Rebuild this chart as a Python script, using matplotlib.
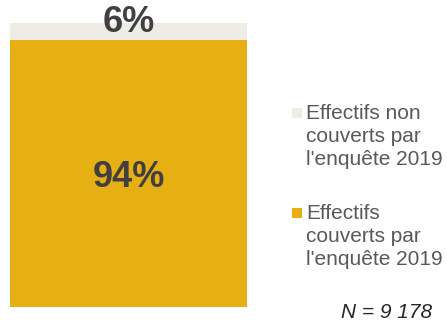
import matplotlib.pyplot as plt
from matplotlib.patches import Rectangle

plt.rcParams["font.family"] = ["Liberation Sans", "DejaVu Sans"]

# données (%)
segments = ["Effectifs couverts par\nl'enquête 2019", "Effectifs non\ncouverts par\nl'enquête 2019"]
valeurs = [94, 6]
couleurs = ["#E6AF13", "#EFEBE5"]
legende = ["Effectifs non\ncouverts par\nl'enquête 2019", "Effectifs\ncouverts par\nl'enquête 2019"]
couleurs_legende = ["#EFEBE5", "#E6AF13"]
effectif = "9 178"

W, H = 447, 326
fig = plt.figure(figsize=(W / 100, H / 100), dpi=100)
ax = fig.add_axes([10 / W, 19 / H, 237 / W, 284 / H])

bas = 0
for nom, v, c in zip(segments, valeurs, couleurs):
    ax.bar(0, v, width=1, bottom=bas, color=c, linewidth=0)
    bas += v

# étiquettes : 94% un peu sous le centre, 6% à cheval sur le haut de la barre
ax.text(0, valeurs[0] / 2 - 1.5, f"{valeurs[0]}%", ha="center", va="center",
        fontsize=26, fontweight="bold", color="#404040")
ax.text(0, 100.3, f"{valeurs[1]}%", ha="center", va="center",
        fontsize=26, fontweight="bold", color="#404040")

ax.set_xlim(-0.5, 0.5)
ax.set_ylim(0, 100)
ax.axis("off")

# légende manuelle
y_top = [104, 204]
for lab, c, y in zip(legende, couleurs_legende, y_top):
    fig.patches.append(Rectangle((292 / W, 1 - (y + 14) / H), 10 / W, 10 / H,
                                 transform=fig.transFigure, color=c, linewidth=0))
    fig.text(306 / W, 1 - y / H, lab, ha="left", va="top", fontsize=15,
             color="#595959", linespacing=1.28)

fig.text(432 / W, 1 - 313 / H, f"N = {effectif}", ha="right", va="center",
         fontsize=15, style="italic", color="#262626")

plt.savefig("out.png", dpi=100)
